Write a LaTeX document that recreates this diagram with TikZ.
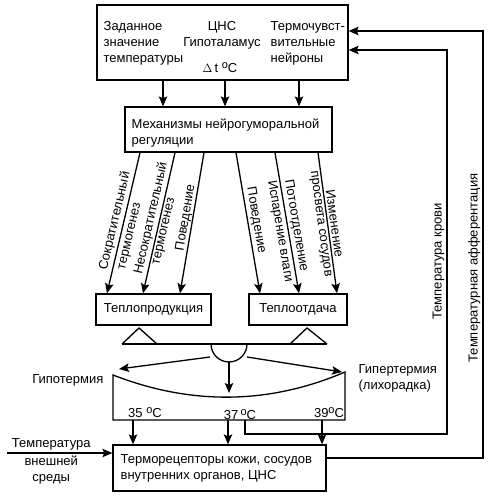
\documentclass[tikz,border=0pt]{standalone}
\usepackage{fontspec}
\setmainfont{Liberation Sans}
\usepackage{tikz}
\usetikzlibrary{arrows.meta,positioning}

\newcommand{\tdeg}{\raisebox{0.6ex}{\fontsize{11}{11}\selectfont o}C}

\begin{document}
\begin{tikzpicture}[x=1pt,y=-1pt,
	every node/.style={font=\fontsize{13}{16}\selectfont, inner sep=2pt},
	box/.style={draw, line width=1.3pt, minimum width=#1},
	arr/.style={line width=1.3pt, -{Stealth[length=10pt,width=8.5pt,inset=2pt]}},
	lbl/.style={sloped, inner sep=2pt},
	line width=1.3pt]
    \useasboundingbox (0,0) rectangle (500,502);
    % blocks
    \node[box=251pt, minimum height=75pt] (top) at (222.5,42.5) {};
    \node[align=left, anchor=west] (setp) at (101,43) {Заданное\\значение\\температуры};
    \node[align=center] (cns) at (222,35) {ЦНС\\Гипоталамус};
    \node (dt) at (220,68) {$\Delta$\,t \tdeg};
    \node[align=left, anchor=west] (sens) at (268,43) {Термочувст-\\вительные\\нейроны};
    \node[box=207pt, minimum height=45pt] (mech) at (228.5,129.5) {};
    \node[align=left, anchor=west] (mechtxt) at (129,133) {Механизмы нейрогуморальной\\регуляции};
    \node[box=115pt, minimum height=31pt] (prod) at (153.5,309.5) {Теплопродукция};
    \node[box=98pt, minimum height=31pt] (loss) at (298,309.5) {Теплоотдача};
    \node[box=213pt, minimum height=46pt] (thermo) at (219.5,468) {};
    \node[align=left, anchor=west] (thermotxt) at (118,468) {Терморецепторы кожи, сосудов\\внутренних органов, ЦНС};

    % top -> mech
    \draw[arr] (top.south -| 163,0) -- (mech.north -| 163,0);
    \draw[arr] (top.south -| 225,0) -- (mech.north -| 225,0);
    \draw[arr] (top.south -| 299,0) -- (mech.north -| 299,0);

    % mech -> prod
    \draw[arr] (mech.south -| 140,0) -- node[lbl,pos=.5,above]{Сократительный} node[lbl,pos=.58,below,inner sep=4.5pt]{термогенез} (prod.north -| 107,0);
    \draw[arr] (mech.south -| 175,0) -- node[lbl,pos=.48,above]{Несократительный} node[lbl,pos=.55,below]{термогенез} (prod.north -| 143,0);
    \draw[arr] (mech.south -| 204,0) -- node[lbl,pos=.47,above,inner sep=.5pt]{Поведение} (prod.north -| 180,0);
    % mech -> loss
    \draw[arr] (mech.south -| 236,0) -- node[lbl,pos=.49,above]{Поведение} (loss.north -| 260,0);
    \draw[arr] (mech.south -| 275,0) -- node[lbl,pos=.53,above]{Потоотделение} node[lbl,pos=.55,below]{Испарение влаги} (loss.north -| 299,0);
    \draw[arr] (mech.south -| 318,0) -- node[lbl,pos=.51,above]{Изменение} node[lbl,pos=.5,below]{просвета сосудов} (loss.north -| 337,0);

    % balance
    \draw (122,344) -- (139,328) -- (157,344);
    \draw (290,344) -- (307,328) -- (327,344);
    \draw (122,344) -- (327,344);
    \draw (211,344) arc[start angle=180, end angle=360, radius=18pt];
    \coordinate (pl) at (210,357);
    \coordinate (pr) at (247,357);
    \coordinate (pb) at (229,362);
    \node[anchor=east] (hypo) at (106,380) {Гипотермия};
    \node[align=left, anchor=west] (hyper) at (356,378) {Гипертермия\\(лихорадка)};
    \draw[arr] (pl) -- (119,369);
    \draw[arr] (pr) -- (342,372);
    \draw[arr] (pb) -- (229,393);

    % scale
    \draw (113,375) .. controls (190,405) and (268,405) .. (345,372) -- (345,420) -- (113,420) -- cycle;
    \node (t35) at (145,413) {35 \tdeg};
    \node (t37) at (240,415) {37\,\tdeg};
    \node (t39) at (329,413) {39\tdeg};
    \coordinate (s35) at (133,420);
    \coordinate (s37) at (228,420);
    \coordinate (s39) at (322,420);
    \coordinate (blood) at (245,420);
    \draw[arr] (s35) -- (thermo.north -| s35);
    \draw[arr] (s37) -- (thermo.north -| s37);
    \draw[arr] (s39) -- (thermo.north -| s39);

    % feedback
    \draw[arr] (blood) -- (245,434) -- (447,434) -- node[lbl,pos=.45,above]{Температура крови} (447,50) -- (top.east |- 0,50);
    \draw[arr] (thermo.east |- 0,458) -- (483,458) -- node[lbl,pos=.445,above]{Температурная афферентация} (483,31) -- (top.east |- 0,31);

    % outer temperature
    \coordinate (ext) at (7,453);
    \draw[arr] (ext) -- node[pos=.42,above]{Температура} node[pos=.42,below,align=center]{внешней\\среды} (thermo.west |- ext);
\end{tikzpicture}
\end{document}
